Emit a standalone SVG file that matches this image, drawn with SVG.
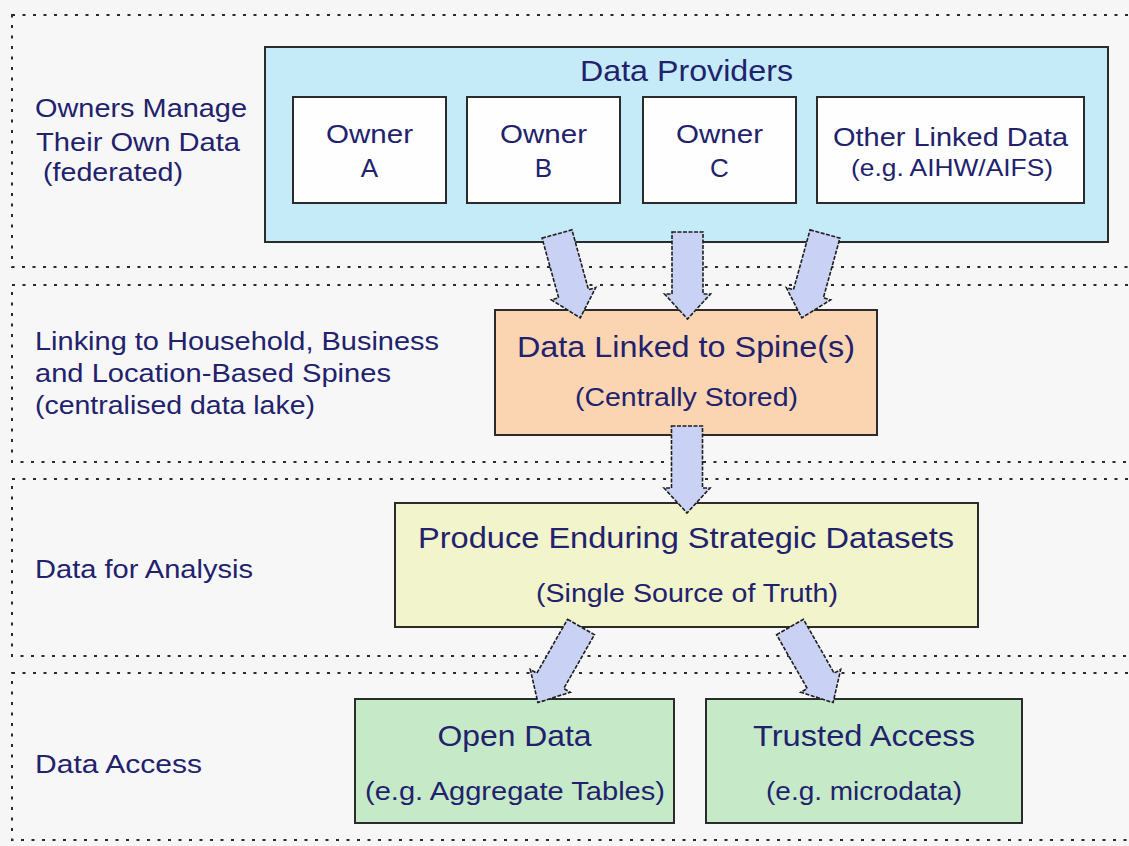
<svg xmlns="http://www.w3.org/2000/svg" width="1129" height="846" viewBox="0 0 1129 846">
<defs>
<style>
.band{fill:#f7f7f8;stroke:#2a2a2a;stroke-width:2;stroke-dasharray:3 7.5}
.box{stroke:#2b2b2b;stroke-width:2}
.t{font-family:"Liberation Sans",Arial,sans-serif;fill:#22226c}
.c{text-anchor:middle}
.arrow{fill:#c9d2f4;stroke:#1e1e1e;stroke-width:1.6;stroke-dasharray:4 1.5;stroke-linejoin:miter}
</style>
<path id="blockArrow" d="M -15.5,0 L 15.5,0 L 15.5,62 L 23,62 L 0,87 L -23,62 L -15.5,62 Z"/>
</defs>
<rect x="0" y="0" width="1129" height="846" fill="#f6f6f7"/>

<g id="bands">
<rect class="band" x="12" y="15" width="1130" height="252"/>
<rect class="band" x="12" y="285" width="1130" height="177"/>
<rect class="band" x="12" y="479" width="1130" height="177"/>
<rect class="band" x="12" y="673" width="1130" height="167"/>
</g>

<g id="layer-labels" class="t" font-size="26">
<text x="35" y="117" textLength="212" lengthAdjust="spacingAndGlyphs">Owners Manage</text>
<text x="36" y="151" textLength="204" lengthAdjust="spacingAndGlyphs">Their Own Data</text>
<text x="43" y="181" textLength="140" lengthAdjust="spacingAndGlyphs">(federated)</text>
<text x="35" y="350" textLength="404" lengthAdjust="spacingAndGlyphs">Linking to Household, Business</text>
<text x="35" y="382" textLength="356" lengthAdjust="spacingAndGlyphs">and Location-Based Spines</text>
<text x="35" y="414" textLength="280" lengthAdjust="spacingAndGlyphs">(centralised data lake)</text>
<text x="35" y="578" textLength="218" lengthAdjust="spacingAndGlyphs">Data for Analysis</text>
<text x="35" y="773" textLength="167" lengthAdjust="spacingAndGlyphs">Data Access</text>
</g>

<g id="data-providers">
<rect class="box" x="265" y="47" width="843" height="195" fill="#c5ebf9"/>
<text class="t c" x="686.5" y="81" font-size="29" textLength="213" lengthAdjust="spacingAndGlyphs">Data Providers</text>
</g>

<g id="owner-a">
<rect class="box" x="293" y="97" width="153" height="106" fill="#fefefe"/>
<text class="t c" x="369.5" y="143" font-size="26" textLength="87" lengthAdjust="spacingAndGlyphs">Owner</text>
<text class="t c" x="369.5" y="177" font-size="26">A</text>
</g>
<g id="owner-b">
<rect class="box" x="467" y="97" width="153" height="106" fill="#fefefe"/>
<text class="t c" x="543.5" y="143" font-size="26" textLength="87" lengthAdjust="spacingAndGlyphs">Owner</text>
<text class="t c" x="543.5" y="177" font-size="26">B</text>
</g>
<g id="owner-c">
<rect class="box" x="643" y="97" width="153" height="106" fill="#fefefe"/>
<text class="t c" x="719.5" y="143" font-size="26" textLength="87" lengthAdjust="spacingAndGlyphs">Owner</text>
<text class="t c" x="719.5" y="177" font-size="26">C</text>
</g>
<g id="other-linked">
<rect class="box" x="817" y="97" width="267" height="106" fill="#fefefe"/>
<text class="t c" x="950.5" y="146" font-size="26" textLength="235" lengthAdjust="spacingAndGlyphs">Other Linked Data</text>
<text class="t c" x="952" y="176" font-size="24" textLength="202" lengthAdjust="spacingAndGlyphs">(e.g. AIHW/AIFS)</text>
</g>

<g id="data-linked">
<rect class="box" x="495" y="310" width="382" height="125" fill="#fbd5b2"/>
<text class="t c" x="686" y="357" font-size="29" textLength="338" lengthAdjust="spacingAndGlyphs">Data Linked to Spine(s)</text>
<text class="t c" x="686.5" y="406" font-size="26" textLength="223" lengthAdjust="spacingAndGlyphs">(Centrally Stored)</text>
</g>

<g id="strategic-datasets">
<rect class="box" x="395" y="503" width="583" height="124" fill="#f2f4cc"/>
<text class="t c" x="686" y="548" font-size="29" textLength="536" lengthAdjust="spacingAndGlyphs">Produce Enduring Strategic Datasets</text>
<text class="t c" x="687" y="602" font-size="26" textLength="302" lengthAdjust="spacingAndGlyphs">(Single Source of Truth)</text>
</g>

<g id="open-data">
<rect class="box" x="355" y="699" width="319" height="124" fill="#c6eac8"/>
<text class="t c" x="514.5" y="746" font-size="29" textLength="154" lengthAdjust="spacingAndGlyphs">Open Data</text>
<text class="t c" x="515" y="800" font-size="26" textLength="300" lengthAdjust="spacingAndGlyphs">(e.g. Aggregate Tables)</text>
</g>

<g id="trusted-access">
<rect class="box" x="706" y="699" width="316" height="124" fill="#c6eac8"/>
<text class="t c" x="864" y="746" font-size="29" textLength="222" lengthAdjust="spacingAndGlyphs">Trusted Access</text>
<text class="t c" x="864" y="800" font-size="26" textLength="196" lengthAdjust="spacingAndGlyphs">(e.g. microdata)</text>
</g>

<g id="connectors">
<use href="#blockArrow" class="arrow" transform="translate(557,234) rotate(-15.5)"/>
<use href="#blockArrow" class="arrow" transform="translate(687.5,232)"/>
<use href="#blockArrow" class="arrow" transform="translate(825,234) rotate(15.5)"/>
<use href="#blockArrow" class="arrow" transform="translate(687,426)"/>
<use href="#blockArrow" class="arrow" transform="translate(581,627) rotate(29.7)"/>
<use href="#blockArrow" class="arrow" transform="translate(790,627) rotate(-29.7)"/>
</g>
</svg>
